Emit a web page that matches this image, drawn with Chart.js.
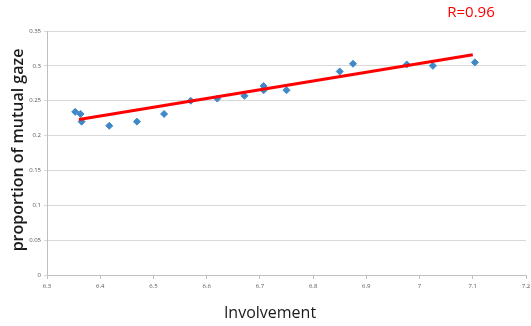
<!DOCTYPE html>
<html>
<head>
<meta charset="utf-8">
<script src="https://cdn.jsdelivr.net/npm/chart.js@4/dist/chart.umd.min.js"></script>
<style>
  html, body { margin: 0; padding: 0; background: #fff; }
  #wrap { width: 531px; height: 326px; position: relative; }
</style>
</head>
<body>
<div id="wrap"><canvas id="c"></canvas></div>
<script>
// Involvement vs proportion of mutual gaze, with fitted trend line.
const INVOLVEMENT = [6.353, 6.363, 6.365, 6.417, 6.469, 6.52, 6.57, 6.62, 6.671, 6.707, 6.707, 6.75, 6.85, 6.875, 6.976, 7.025, 7.104];
const MUTUAL_GAZE = [0.234, 0.231, 0.22, 0.214, 0.22, 0.231, 0.25, 0.253, 0.257, 0.271, 0.265, 0.265, 0.292, 0.303, 0.302, 0.300, 0.305];
const FIT_X = [6.36, 7.1];
const FIT_Y = [0.223, 0.316];
const X_TICKS = [6.3, 6.4, 6.5, 6.6, 6.7, 6.8, 6.9, 7, 7.1, 7.2];
const Y_TICKS = [0, 0.05, 0.1, 0.15, 0.2, 0.25, 0.3, 0.35];
const R_LABEL = "R=0.96";
const X_TITLE = "Involvement";
const Y_TITLE = "proportion of mutual gaze";

const pts = (xs, ys) => xs.map((x, i) => ({ x, y: ys[i] }));

// draw titles + R label as canvas text at fixed spots
const labels = {
  id: "labels",
  afterDraw(chart) {
    const ctx = chart.ctx;
    ctx.save();
    ctx.textAlign = "center";
    ctx.textBaseline = "middle";
    ctx.fillStyle = "#ff0000";
    ctx.font = "15px 'Open Sans'";
    ctx.fillText(R_LABEL, 471, 13);
    ctx.fillStyle = "#1a1a1a";
    ctx.font = "16px 'Open Sans'";
    ctx.fillText(X_TITLE, 270, 313);
    ctx.font = "600 16px 'Open Sans'";
    ctx.translate(18, 150);
    ctx.rotate(-Math.PI / 2);
    ctx.fillText(Y_TITLE, 0, 0);
    ctx.restore();
  },
};

new Chart(document.getElementById("c"), {
  type: "scatter",
  data: {
    datasets: [
      {
        type: "line", data: pts(FIT_X, FIT_Y), borderColor: "#ff0000", borderWidth: 3,
        pointRadius: 0, fill: false, order: 0, borderCapStyle: "butt",
      },
      {
        data: pts(INVOLVEMENT, MUTUAL_GAZE), pointStyle: "rectRot", pointRadius: 3.5,
        backgroundColor: "#3f88c8", borderColor: "#3f88c8", order: 1,
      },
    ],
  },
  options: {
    responsive: true, maintainAspectRatio: false, animation: false,
    layout: { padding: { top: 31, right: 0, left: 0, bottom: 0 } },
    plugins: { legend: { display: false }, tooltip: { enabled: false } },
    scales: {
      x: {
        type: "linear", min: 6.3, max: 7.2,
        afterBuildTicks: (s) => { s.ticks = X_TICKS.map((v) => ({ value: v })); },
        afterFit: (s) => { s.height = 51; s.paddingRight = 0; s.paddingLeft = 0; },
        grid: { drawOnChartArea: false, tickLength: 4, color: "#bfbfbf" },
        border: { color: "#bfbfbf" },
        ticks: { font: { size: 6, family: "'Open Sans'" }, color: "#555", padding: 4, maxRotation: 0, callback: (v) => String(v) },
      },
      y: {
        min: 0, max: 0.35,
        afterBuildTicks: (s) => { s.ticks = Y_TICKS.map((v) => ({ value: v })); },
        afterFit: (s) => { s.width = 47; s.paddingTop = 0; s.paddingBottom = 0; },
        grid: { color: "#d9d9d9", tickLength: 3 },
        border: { color: "#bfbfbf" },
        ticks: { font: { size: 6, family: "'Open Sans'" }, color: "#555", padding: 3, callback: (v) => String(v) },
      },
    },
  },
  plugins: [labels],
});
</script>
</body>
</html>
